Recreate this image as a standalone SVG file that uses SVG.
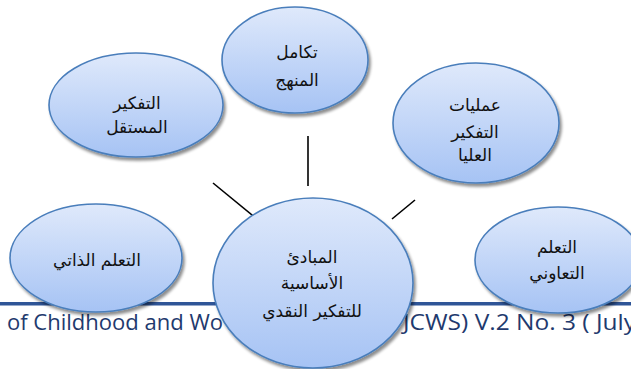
<svg xmlns="http://www.w3.org/2000/svg" width="631" height="369" viewBox="0 0 631 369">
<defs>
<linearGradient id="g" x1="0" y1="0" x2="0" y2="1">
<stop offset="0" stop-color="#dfe9fb"/>
<stop offset="1" stop-color="#a6c3f4"/>
</linearGradient>
<filter id="sh" x="-10%" y="-10%" width="125%" height="130%">
<feGaussianBlur in="SourceAlpha" stdDeviation="1.5"/>
<feOffset dx="2" dy="3" result="b"/>
<feComponentTransfer><feFuncA type="linear" slope="0.45"/></feComponentTransfer>
<feMerge><feMergeNode/><feMergeNode in="SourceGraphic"/></feMerge>
</filter>
</defs>
<style>
.n{fill:url(#g);stroke:#4a7ebb;stroke-width:1.6;filter:url(#sh)}
.t{font-family:"DejaVu Sans","Liberation Sans",sans-serif;font-size:17px;fill:#111;text-anchor:middle}
.c line{stroke:#000;stroke-width:1.6}
.f{font-family:"Open Sans","Liberation Sans",sans-serif;font-size:22px;fill:#1f3a6e}
</style>
<rect width="631" height="369" fill="#fff"/>
<rect x="0" y="302" width="631" height="3.5" fill="#2f5597"/>
<text class="f" x="7" y="330" textLength="216" lengthAdjust="spacingAndGlyphs">of Childhood and Wo</text>
<text class="f" x="403" y="330" textLength="233" lengthAdjust="spacingAndGlyphs">JCWS) V.2 No. 3 ( July</text>
<g class="c" id="connectors">
<line x1="213" y1="183" x2="257" y2="219"/>
<line x1="308" y1="136" x2="308" y2="186"/>
<line x1="392" y1="219" x2="415" y2="200"/>
</g>
<g id="n-top">
<ellipse class="n" cx="295" cy="60" rx="73" ry="53"/>
<text class="t" x="297" y="58">تكامل</text>
<text class="t" x="297" y="86">المنهج</text>
</g>
<g id="n-upper-left">
<ellipse class="n" cx="136" cy="105" rx="87" ry="52"/>
<text class="t" x="137" y="109">التفكير</text>
<text class="t" x="137" y="133">المستقل</text>
</g>
<g id="n-upper-right">
<ellipse class="n" cx="476" cy="123" rx="83" ry="60"/>
<text class="t" x="475" y="111">عمليات</text>
<text class="t" x="475" y="138">التفكير</text>
<text class="t" x="475" y="161">العليا</text>
</g>
<g id="n-lower-left">
<ellipse class="n" cx="96" cy="258" rx="86" ry="54"/>
<text class="t" x="97" y="266">التعلم الذاتي</text>
</g>
<g id="n-lower-right">
<ellipse class="n" cx="558" cy="260" rx="83" ry="53"/>
<text class="t" x="557" y="253">التعلم</text>
<text class="t" x="557" y="279">التعاوني</text>
</g>
<g id="n-center">
<ellipse class="n" cx="313" cy="283" rx="100" ry="85"/>
<text class="t" x="312" y="263">المبادئ</text>
<text class="t" x="312" y="289">الأساسية</text>
<text class="t" x="312" y="317">للتفكير النقدي</text>
</g>
</svg>
